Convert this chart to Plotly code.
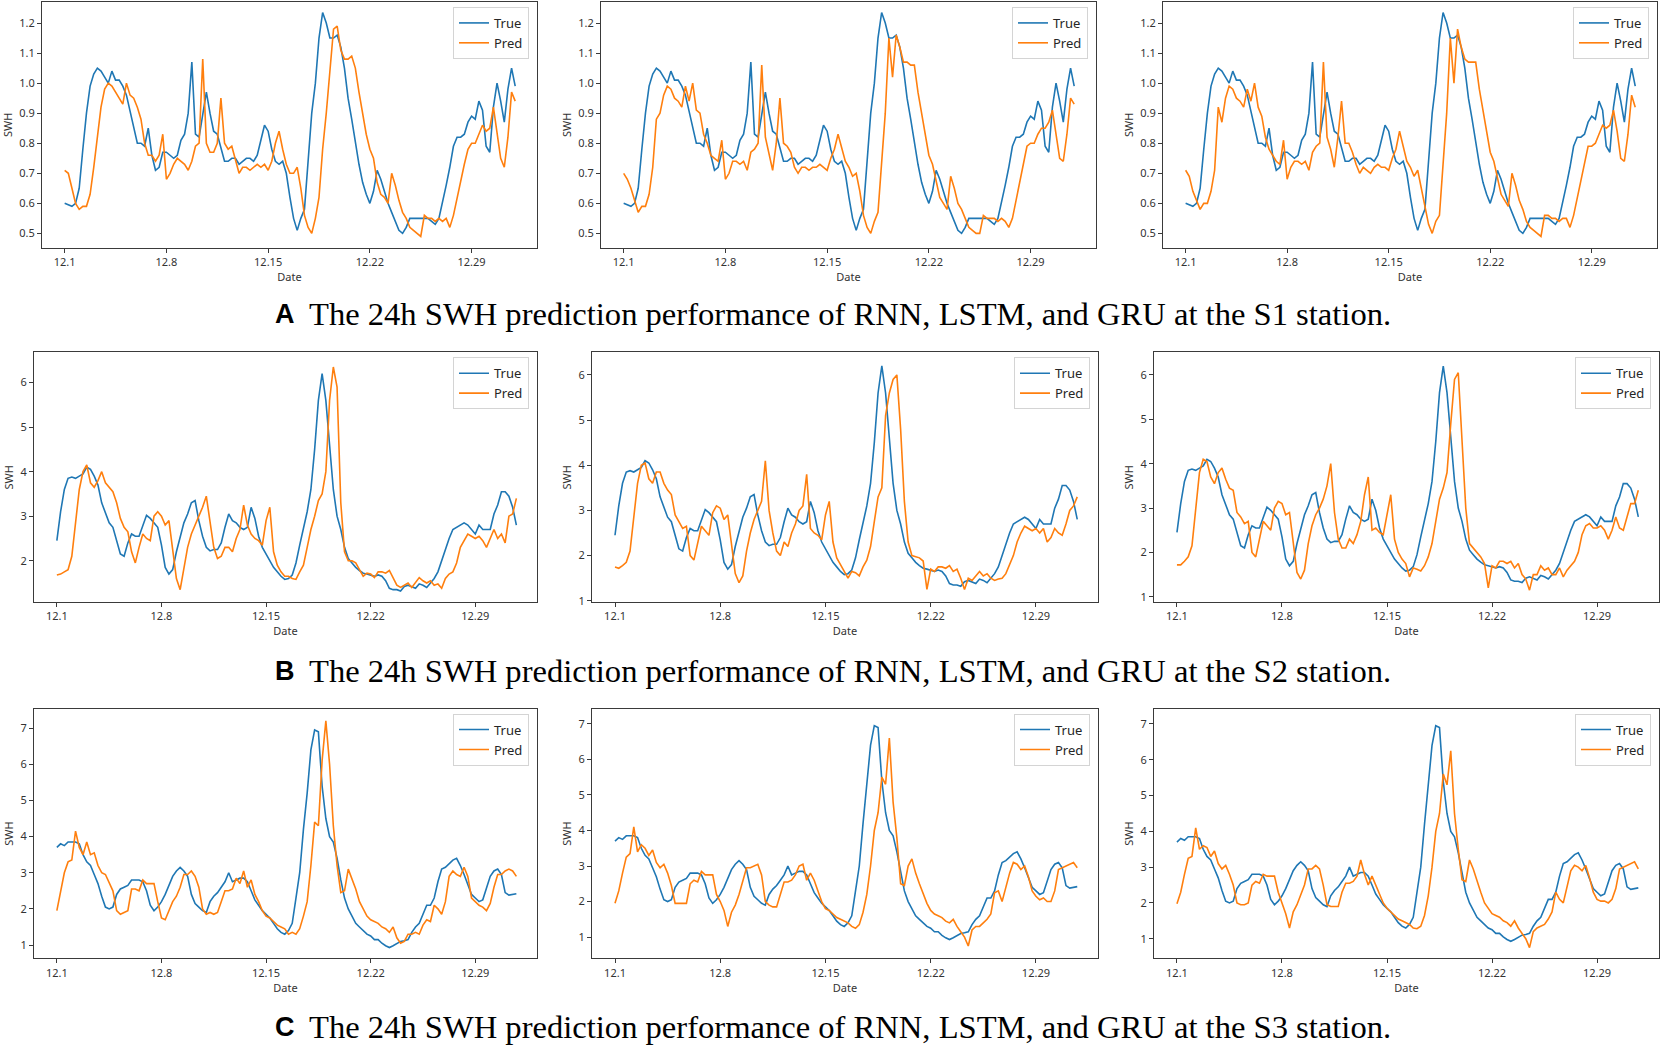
import plotly.graph_objects as go
import pandas as pd

# 6-hourly SWH series (station S1, S2, S3)
true_s1 = [
    0.60, 0.595, 0.59, 0.60,
    0.65, 0.78, 0.90, 0.99,
    1.03, 1.05, 1.04, 1.02,
    1.00, 1.04, 1.01, 1.01,
    0.99, 0.96, 0.91, 0.85,
    0.80, 0.80, 0.79, 0.85,
    0.76, 0.71, 0.72, 0.77,
    0.77, 0.76, 0.75, 0.76,
    0.81, 0.83, 0.90, 1.07,
    0.83, 0.82, 0.90, 0.97,
    0.90, 0.84, 0.83, 0.78,
    0.74, 0.74, 0.75, 0.75,
    0.73, 0.74, 0.75, 0.75,
    0.74, 0.76, 0.81, 0.86,
    0.84, 0.78, 0.74, 0.73,
    0.74, 0.70, 0.62, 0.55,
    0.51, 0.55, 0.58, 0.75,
    0.90, 1.00, 1.15, 1.235,
    1.20, 1.15, 1.15, 1.16,
    1.12, 1.05, 0.95, 0.88,
    0.80, 0.73, 0.67, 0.63,
    0.60, 0.64, 0.71, 0.68,
    0.64, 0.60, 0.57, 0.54,
    0.51, 0.50, 0.52, 0.55,
    0.55, 0.55, 0.55, 0.55,
    0.55, 0.54, 0.53, 0.55,
    0.60, 0.66, 0.72, 0.79,
    0.82, 0.82, 0.83, 0.87,
    0.89, 0.88, 0.94, 0.91,
    0.79, 0.77, 0.92, 1.00,
    0.94, 0.87, 0.98, 1.05,
    0.99,
]
pred_s1_rnn = [
    0.71, 0.70, 0.65, 0.60,
    0.58, 0.59, 0.59, 0.63,
    0.72, 0.83, 0.92, 0.98,
    1.00, 0.99, 0.97, 0.95,
    0.93, 1.00, 0.96, 0.95,
    0.92, 0.88, 0.80, 0.76,
    0.76, 0.74, 0.76, 0.83,
    0.68, 0.70, 0.73, 0.75,
    0.74, 0.73, 0.71, 0.74,
    0.79, 0.80, 1.08, 0.80,
    0.77, 0.77, 0.80, 0.95,
    0.80, 0.78, 0.79, 0.74,
    0.70, 0.72, 0.72, 0.71,
    0.72, 0.73, 0.72, 0.73,
    0.71, 0.74, 0.80, 0.84,
    0.78, 0.73, 0.70, 0.70,
    0.72, 0.65, 0.56, 0.52,
    0.50, 0.55, 0.62, 0.78,
    0.90, 1.05, 1.18, 1.19,
    1.11, 1.08, 1.08, 1.09,
    1.05, 0.97, 0.90, 0.83,
    0.78, 0.75, 0.67, 0.63,
    0.62, 0.60, 0.70, 0.66,
    0.61, 0.57, 0.55, 0.52,
    0.51, 0.50, 0.49, 0.56,
    0.55, 0.55, 0.54, 0.55,
    0.54, 0.55, 0.52, 0.56,
    0.62, 0.67, 0.73, 0.78,
    0.80, 0.80, 0.83, 0.86,
    0.84, 0.85, 0.92, 0.84,
    0.75, 0.72, 0.82, 0.97,
    0.94,
]
pred_s1_lstm = [
    0.70, 0.68, 0.65, 0.61,
    0.57, 0.59, 0.59, 0.63,
    0.72, 0.88, 0.90, 0.96,
    0.99, 0.98, 0.95, 0.94,
    0.92, 0.99, 0.94, 1.00,
    0.91, 0.90, 0.83, 0.80,
    0.76, 0.75, 0.74, 0.81,
    0.68, 0.70, 0.74, 0.74,
    0.73, 0.74, 0.71, 0.77,
    0.78, 0.80, 1.06, 0.82,
    0.77, 0.71, 0.80, 0.95,
    0.80, 0.79, 0.77, 0.72,
    0.70, 0.72, 0.72, 0.71,
    0.72, 0.72, 0.73, 0.72,
    0.71, 0.75, 0.78, 0.83,
    0.78, 0.74, 0.72, 0.69,
    0.70, 0.64, 0.56, 0.52,
    0.50, 0.54, 0.57, 0.73,
    0.90, 1.15, 1.02, 1.16,
    1.12, 1.07, 1.07, 1.06,
    1.06, 0.97, 0.90, 0.82,
    0.76, 0.73, 0.67, 0.62,
    0.60, 0.58, 0.69, 0.65,
    0.60, 0.58, 0.55, 0.52,
    0.51, 0.50, 0.50, 0.56,
    0.55, 0.55, 0.55, 0.54,
    0.55, 0.54, 0.52, 0.55,
    0.61, 0.67, 0.73, 0.79,
    0.80, 0.80, 0.83, 0.85,
    0.85, 0.87, 0.91, 0.83,
    0.75, 0.74, 0.83, 0.95,
    0.93,
]
pred_s1_gru = [
    0.71, 0.69, 0.64, 0.61,
    0.58, 0.60, 0.60, 0.64,
    0.71, 0.92, 0.87, 0.95,
    0.99, 0.98, 0.95, 0.94,
    0.92, 0.98, 0.94, 1.00,
    0.92, 0.89, 0.82, 0.78,
    0.76, 0.74, 0.73, 0.81,
    0.68, 0.72, 0.74, 0.74,
    0.73, 0.74, 0.71, 0.77,
    0.79, 0.80, 1.07, 0.82,
    0.78, 0.72, 0.82, 0.94,
    0.80, 0.80, 0.77, 0.73,
    0.70, 0.72, 0.71, 0.70,
    0.72, 0.73, 0.72, 0.72,
    0.71, 0.75, 0.78, 0.84,
    0.79, 0.74, 0.72, 0.69,
    0.71, 0.65, 0.58, 0.53,
    0.50, 0.54, 0.56, 0.72,
    0.90, 1.15, 1.00, 1.18,
    1.12, 1.08, 1.07, 1.07,
    1.07, 0.98, 0.91, 0.84,
    0.77, 0.74, 0.68, 0.63,
    0.61, 0.59, 0.70, 0.66,
    0.61, 0.58, 0.54, 0.52,
    0.51, 0.50, 0.49, 0.56,
    0.56, 0.55, 0.55, 0.54,
    0.55, 0.55, 0.52, 0.56,
    0.62, 0.67, 0.74, 0.79,
    0.79, 0.80, 0.83, 0.86,
    0.85, 0.86, 0.91, 0.84,
    0.75, 0.74, 0.83, 0.96,
    0.92,
]

true_s2 = [
    2.45, 3.10, 3.60, 3.85,
    3.88, 3.85, 3.90, 3.95,
    4.10, 4.05, 3.90, 3.70,
    3.30, 3.05, 2.85, 2.75,
    2.45, 2.15, 2.10, 2.40,
    2.60, 2.55, 2.55, 2.80,
    3.02, 2.95, 2.85, 2.75,
    2.35, 1.85, 1.70, 1.80,
    2.20, 2.55, 2.85, 3.05,
    3.30, 3.35, 2.90, 2.55,
    2.30, 2.22, 2.25, 2.25,
    2.40, 2.75, 3.05, 2.90,
    2.85, 2.75, 2.70, 2.75,
    3.20, 2.95, 2.55, 2.30,
    2.15, 2.00, 1.85, 1.75,
    1.65, 1.58, 1.60, 1.68,
    1.95, 2.35, 2.70, 3.10,
    3.60, 4.50, 5.60, 6.20,
    5.60, 4.50, 3.60, 3.00,
    2.70, 2.30, 2.05, 1.95,
    1.85, 1.78, 1.72, 1.70,
    1.68, 1.65, 1.68, 1.65,
    1.55, 1.38, 1.35, 1.35,
    1.32, 1.42, 1.45, 1.42,
    1.38, 1.48, 1.45, 1.40,
    1.50, 1.60, 1.75, 2.00,
    2.30, 2.50, 2.70, 2.75,
    2.80, 2.85, 2.80, 2.70,
    2.60, 2.80, 2.70, 2.70,
    2.70, 3.05, 3.25, 3.55,
    3.55, 3.45, 3.20, 2.80,
]
pred_s2_rnn = [
    1.68, 1.70, 1.75, 1.80,
    2.10, 2.90, 3.60, 4.00,
    4.15, 3.75, 3.65, 3.80,
    4.00, 3.75, 3.65, 3.55,
    3.30, 2.95, 2.75, 2.65,
    2.20, 1.95, 2.30, 2.60,
    2.50, 2.45, 3.00, 3.10,
    3.00, 2.80, 2.90, 2.30,
    1.60, 1.35, 1.80, 2.30,
    2.60, 2.80, 3.00, 3.20,
    3.45, 2.90, 2.30, 2.05,
    2.10, 2.30, 2.30, 2.20,
    2.50, 2.70, 3.25, 2.80,
    2.60, 2.50, 2.45, 2.35,
    2.90, 3.20, 2.20, 1.90,
    1.75, 1.65, 1.65, 1.60,
    1.58, 1.75, 1.90, 2.30,
    2.70, 3.00, 3.35, 3.50,
    4.00, 5.60, 6.35, 5.90,
    3.30, 2.20, 2.00, 2.00,
    1.95, 1.80, 1.65, 1.72,
    1.70, 1.62, 1.75, 1.75,
    1.72, 1.78, 1.60, 1.45,
    1.40, 1.45, 1.50, 1.40,
    1.50, 1.62, 1.55, 1.50,
    1.55, 1.45, 1.48, 1.38,
    1.60, 1.70, 1.75, 1.95,
    2.30, 2.45, 2.60, 2.55,
    2.50, 2.55, 2.45, 2.30,
    2.50, 2.70, 2.50, 2.60,
    2.40, 3.00, 3.05, 3.40,
]
pred_s2_lstm = [
    1.75, 1.72, 1.78, 1.85,
    2.10, 2.80, 3.60, 4.00,
    4.05, 3.70, 3.60, 3.85,
    3.85, 3.60, 3.45, 3.35,
    2.90, 2.75, 2.60, 2.65,
    2.00, 1.90, 2.30, 2.65,
    2.55, 2.45, 2.95, 3.10,
    3.05, 2.80, 2.90, 2.20,
    1.60, 1.40, 1.55, 2.10,
    2.50, 2.80, 3.00, 3.20,
    4.10, 3.00, 2.50, 2.10,
    2.00, 2.30, 2.20, 2.50,
    2.70, 3.00, 3.10, 3.80,
    2.60, 2.50, 2.45, 2.35,
    2.90, 3.20, 2.30, 1.95,
    1.80, 1.65, 1.50, 1.65,
    1.62, 1.55, 1.75, 1.90,
    2.20, 2.75, 3.30, 3.50,
    5.10, 5.60, 5.90, 6.00,
    4.80, 3.20, 2.30, 2.00,
    1.98, 1.95, 1.88, 1.25,
    1.70, 1.65, 1.75, 1.75,
    1.72, 1.78, 1.65, 1.70,
    1.50, 1.25, 1.50, 1.45,
    1.55, 1.65, 1.55, 1.60,
    1.50, 1.45, 1.48, 1.50,
    1.60, 1.80, 2.00, 2.30,
    2.50, 2.65, 2.60, 2.55,
    2.60, 2.50, 2.60, 2.30,
    2.40, 2.60, 2.50, 2.45,
    2.70, 3.00, 3.10, 3.30,
]
pred_s2_gru = [
    1.72, 1.72, 1.80, 1.90,
    2.15, 2.90, 3.80, 4.10,
    4.05, 3.70, 3.55, 3.80,
    3.90, 3.65, 3.45, 3.40,
    2.90, 2.80, 2.65, 2.70,
    2.00, 1.90, 2.30, 2.70,
    2.60, 2.50, 3.00, 3.15,
    3.10, 2.85, 2.90, 2.20,
    1.55, 1.40, 1.60, 2.20,
    2.60, 2.85, 3.00, 3.20,
    3.50, 4.00, 2.90, 2.30,
    2.10, 2.10, 2.30, 2.20,
    2.40, 2.70, 3.30, 3.70,
    2.50, 2.55, 2.45, 2.40,
    2.90, 3.30, 2.30, 2.00,
    1.85, 1.75, 1.45, 1.65,
    1.62, 1.58, 1.70, 1.90,
    2.20, 2.70, 3.20, 3.45,
    3.80, 4.90, 5.90, 6.05,
    4.60, 3.00, 2.20, 2.10,
    2.00, 1.90, 1.75, 1.20,
    1.70, 1.65, 1.80, 1.80,
    1.75, 1.80, 1.65, 1.75,
    1.50, 1.40, 1.15, 1.50,
    1.50, 1.70, 1.60, 1.65,
    1.50, 1.50, 1.65, 1.45,
    1.60, 1.70, 1.80, 2.00,
    2.40, 2.60, 2.65, 2.55,
    2.55, 2.60, 2.50, 2.30,
    2.50, 2.80, 2.55, 2.50,
    2.80, 3.10, 3.10, 3.40,
]

true_s3 = [
    3.70, 3.80, 3.75, 3.85,
    3.85, 3.85, 3.80, 3.50,
    3.30, 3.20, 2.95, 2.70,
    2.35, 2.05, 2.00, 2.05,
    2.40, 2.55, 2.60, 2.65,
    2.80, 2.80, 2.80, 2.75,
    2.50, 2.10, 1.95, 2.05,
    2.20, 2.40, 2.65, 2.90,
    3.05, 3.15, 3.05, 2.90,
    2.40, 2.15, 2.05, 1.95,
    1.90, 2.20, 2.35, 2.45,
    2.60, 2.75, 3.00, 2.75,
    2.80, 2.85, 2.85, 2.75,
    2.50, 2.25, 2.10, 1.95,
    1.85, 1.75, 1.60, 1.45,
    1.35, 1.30, 1.40, 1.60,
    2.30, 3.00, 4.20, 5.20,
    6.40, 6.95, 6.90, 5.40,
    4.50, 4.00, 3.85, 3.40,
    2.80, 2.30, 2.00, 1.80,
    1.60, 1.50, 1.40, 1.30,
    1.25, 1.15, 1.15, 1.05,
    0.98, 0.93, 0.98, 1.05,
    1.10, 1.12, 1.15, 1.35,
    1.50, 1.60, 1.85, 2.10,
    2.10, 2.30, 2.75, 3.10,
    3.15, 3.25, 3.35, 3.40,
    3.20, 2.95, 2.65, 2.40,
    2.30, 2.20, 2.25, 2.60,
    2.90, 3.05, 3.10, 2.95,
    2.45, 2.38, 2.40, 2.42,
]
pred_s3_rnn = [
    1.95, 2.50, 3.00, 3.30,
    3.35, 4.15, 3.70, 3.50,
    3.85, 3.50, 3.55, 3.20,
    3.00, 2.95, 2.70, 2.50,
    1.95, 1.85, 1.90, 1.95,
    2.55, 2.55, 2.50, 2.80,
    2.70, 2.70, 2.70, 2.20,
    1.75, 1.70, 1.95, 2.20,
    2.35, 2.60, 2.95, 2.95,
    3.05, 2.90, 2.60, 2.00,
    1.85, 1.90, 1.85, 1.90,
    2.20, 2.50, 2.50, 2.55,
    2.85, 2.70, 3.05, 2.60,
    2.80, 2.40, 2.20, 1.95,
    1.80, 1.75, 1.65, 1.55,
    1.50, 1.45, 1.30, 1.35,
    1.30, 1.45, 1.80, 2.20,
    3.20, 4.40, 4.30, 6.10,
    7.20, 6.00, 4.30, 3.20,
    2.45, 2.50, 3.10, 2.85,
    2.55, 2.20, 2.00, 1.80,
    1.70, 1.65, 1.60, 1.50,
    1.45, 1.35, 1.50, 1.20,
    1.05, 1.10, 1.30, 1.30,
    1.35, 1.30, 1.55, 1.70,
    1.65, 2.10, 2.00, 1.85,
    2.20, 2.90, 3.05, 2.95,
    2.90, 3.15, 2.90, 2.30,
    2.20, 2.10, 2.05, 1.95,
    2.15, 2.60, 2.95, 2.95,
    3.05, 3.10, 3.05, 2.90,
]
pred_s3_lstm = [
    1.95, 2.30, 2.80, 3.25,
    3.35, 4.10, 3.40, 3.60,
    3.50, 3.30, 3.45, 3.10,
    2.95, 3.05, 2.80, 2.45,
    1.95, 1.95, 1.95, 1.95,
    2.50, 2.60, 2.55, 2.85,
    2.75, 2.75, 2.75, 2.20,
    2.00, 1.75, 1.30, 1.70,
    1.90, 2.20, 2.55, 2.95,
    2.95, 3.00, 3.05, 2.75,
    2.00, 1.90, 1.85, 1.85,
    2.20, 2.55, 2.55, 2.60,
    2.75, 3.00, 3.05, 2.60,
    2.80, 2.60, 2.30, 2.00,
    1.80, 1.75, 1.65, 1.55,
    1.50, 1.45, 1.40, 1.30,
    1.25, 1.35, 1.70, 2.20,
    3.00, 4.00, 4.50, 5.50,
    5.30, 6.60, 4.80, 3.80,
    2.50, 2.45, 3.00, 3.20,
    2.80, 2.50, 2.20, 1.95,
    1.75, 1.65, 1.60, 1.55,
    1.45, 1.40, 1.50, 1.30,
    1.15, 1.00, 0.75, 1.20,
    1.30, 1.30, 1.40, 1.50,
    1.65, 2.25, 2.30, 2.00,
    2.40, 2.80, 3.10, 3.05,
    2.90, 3.00, 2.70, 2.30,
    2.15, 2.05, 2.10, 2.00,
    2.00, 2.30, 2.90, 2.95,
    3.00, 3.05, 3.10, 2.95,
]
pred_s3_gru = [
    1.98, 2.30, 2.80, 3.25,
    3.30, 4.10, 3.50, 3.60,
    3.55, 3.30, 3.45, 3.10,
    2.95, 3.05, 2.80, 2.50,
    2.00, 1.95, 1.95, 2.00,
    2.50, 2.60, 2.55, 2.80,
    2.75, 2.75, 2.75, 2.30,
    2.00, 1.70, 1.30, 1.75,
    1.95, 2.20, 2.50, 2.95,
    2.95, 3.05, 2.95, 2.50,
    1.95, 1.90, 1.90, 1.90,
    2.30, 2.55, 2.55, 2.60,
    2.75, 3.20, 2.80, 2.50,
    2.75, 2.50, 2.25, 2.00,
    1.85, 1.75, 1.65, 1.55,
    1.50, 1.45, 1.40, 1.30,
    1.28, 1.35, 1.65, 2.20,
    3.00, 4.00, 4.50, 5.60,
    5.30, 6.25, 4.50, 3.50,
    2.65, 2.60, 3.20, 2.95,
    2.60, 2.30, 2.00, 1.85,
    1.70, 1.65, 1.60, 1.50,
    1.45, 1.35, 1.50, 1.30,
    1.15, 1.00, 0.75, 1.20,
    1.30, 1.35, 1.40, 1.55,
    1.75, 2.30, 2.10, 2.00,
    2.50, 2.90, 3.05, 3.00,
    2.90, 3.05, 2.70, 2.30,
    2.10, 2.05, 2.05, 2.00,
    2.10, 2.40, 2.95, 3.00,
    3.05, 3.10, 3.15, 2.95,
]

tick_days = [0, 7, 14, 21, 28]
tick_text = ["12.1", "12.8", "12.15", "12.22", "12.29"]

captions = [
    ("A", "The 24h SWH prediction performance of RNN, LSTM, and GRU at the S1 station."),
    ("B", "The 24h SWH prediction performance of RNN, LSTM, and GRU at the S2 station."),
    ("C", "The 24h SWH prediction performance of RNN, LSTM, and GRU at the S3 station."),
]

W, H = 1663, 1050
start = pd.Timestamp("2021-12-01")

rows = [
    dict(true=true_s1, preds=[pred_s1_rnn, pred_s1_lstm, pred_s1_gru],
         top=2, bottom=249,
         cols=[(42, 537), (601, 1096), (1163, 1657)],
         yranges=[(0.452, 1.27)] * 3, dtick=0.1, tick0=0.5, fmt=".1f",
         xrange=(-1.56, 32.5), cap_y=315),
    dict(true=true_s2, preds=[pred_s2_rnn, pred_s2_lstm, pred_s2_gru],
         top=354, bottom=605,
         cols=[(34, 537), (592, 1098), (1154, 1659)],
         yranges=[(1.07, 6.68), (0.97, 6.5), (0.88, 6.51)], dtick=1, tick0=1, fmt="d",
         xrange=(-1.53, 32.13), cap_y=674),
    dict(true=true_s3, preds=[pred_s3_rnn, pred_s3_lstm, pred_s3_gru],
         top=712, bottom=963,
         cols=[(34, 537), (592, 1098), (1154, 1659)],
         yranges=[(0.63, 7.54), (0.40, 7.43), (0.45, 7.43)], dtick=1, tick0=1, fmt="d",
         xrange=(-1.53, 32.13), cap_y=1032),
]

axis_font = dict(family="Noto Sans, Open Sans, sans-serif", size=11, color="#333333")
spine = "#3a3a3a"

fig = go.Figure()
layout = {}
k = 0
for r, row in enumerate(rows):
    for c in range(3):
        k += 1
        sfx = "" if k == 1 else str(k)
        x0, x1 = row["cols"][c]
        for name, vals, color in [("True", row["true"], "#1f77b4"),
                                  ("Pred", row["preds"][c], "#ff7f0e")]:
            dates = pd.date_range(start, periods=len(vals), freq="6h")
            fig.add_trace(go.Scatter(
                x=dates, y=vals, mode="lines", name=name,
                line=dict(color=color, width=1.6),
                xaxis="x" + sfx, yaxis="y" + sfx, legend="legend" + sfx,
            ))
        xr = [start + pd.Timedelta(days=row["xrange"][0]),
              start + pd.Timedelta(days=row["xrange"][1])]
        layout["xaxis" + sfx] = dict(
            domain=[x0 / W, x1 / W], anchor="y" + sfx, type="date",
            range=xr, tickmode="array",
            tickvals=[start + pd.Timedelta(days=d) for d in tick_days],
            ticktext=tick_text, ticks="outside", ticklen=4, tickcolor=spine,
            showline=True, mirror=True, linecolor=spine, linewidth=1,
            showgrid=False, zeroline=False, tickfont=axis_font,
            title=dict(text="Date", font=axis_font, standoff=3),
        )
        layout["yaxis" + sfx] = dict(
            domain=[1 - row["bottom"] / H, 1 - row["top"] / H], anchor="x" + sfx,
            range=list(row["yranges"][c]), tick0=row["tick0"], dtick=row["dtick"],
            tickformat=row["fmt"], ticks="outside", ticklen=4, tickcolor=spine,
            showline=True, mirror=True, linecolor=spine, linewidth=1,
            showgrid=False, zeroline=False, tickfont=axis_font,
            title=dict(text="SWH", font=axis_font, standoff=4),
        )
        layout["legend" + sfx] = dict(
            x=(x1 - 8) / W, y=1 - (row["top"] + 5) / H,
            xanchor="right", yanchor="top",
            bgcolor="rgba(255,255,255,0.85)", bordercolor="#d4d4d4", borderwidth=1,
            font=dict(family="Noto Sans, Open Sans, sans-serif", size=13, color="#262626"),
            itemwidth=30, tracegroupgap=0,
        )

annotations = []
for (letter, text), row in zip(captions, rows):
    yc = 1 - row["cap_y"] / H
    annotations.append(dict(
        text="<b>" + letter + "</b>", x=273 / W, y=yc, xref="paper", yref="paper",
        xanchor="left", yanchor="middle", showarrow=False,
        font=dict(family="Liberation Sans, Arial, sans-serif", size=27, color="black"),
    ))
    annotations.append(dict(
        text=text, x=307 / W, y=yc, xref="paper", yref="paper",
        xanchor="left", yanchor="middle", showarrow=False,
        font=dict(family="Liberation Serif, Times New Roman, serif", size=32.6, color="black"),
    ))

fig.update_layout(
    width=W, height=H, autosize=False,
    margin=dict(l=0, r=0, t=0, b=0),
    paper_bgcolor="white", plot_bgcolor="white",
    annotations=annotations,
    **layout,
)

fig.write_html("out.html", config={"displayModeBar": False},
               post_script="document.body.style.margin='0';")
